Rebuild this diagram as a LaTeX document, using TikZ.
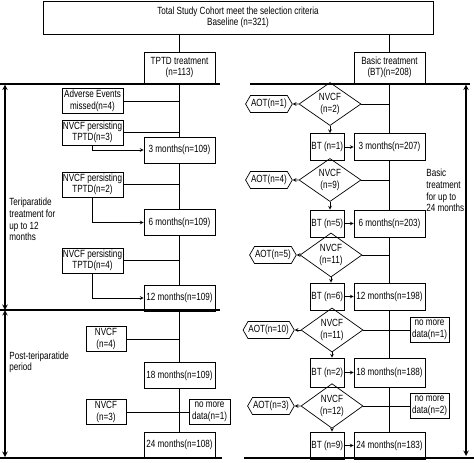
\documentclass[tikz,border=0pt]{standalone}
\usepackage{fontspec}
\setmainfont{Liberation Sans}[FakeStretch=0.78]
\usetikzlibrary{positioning,shapes.geometric,shapes.symbols}

\begin{document}
\begin{tikzpicture}[x=1pt, y=-1pt, node distance=9pt, >=stealth, line width=0.7pt,
    font=\fontsize{10.4}{11.6}\selectfont,
    box/.style={draw, rectangle, align=center, inner sep=1pt, minimum height=25pt},
    month/.style={box, minimum width=71pt, minimum height=26pt},
    side/.style={box, minimum width=61pt},
    small/.style={box, minimum width=40pt},
    btbox/.style={box, minimum width=34pt, inner sep=0.5pt, minimum height=26pt},
    decision/.style={draw, diamond, align=center, inner sep=0pt, minimum width=62pt, minimum height=36pt},
    aot/.style={draw, signal, signal to=west and east, signal pointer angle=120, inner sep=0.5pt, minimum height=17pt},
    span/.style={line width=1.4pt, <->},
    sep/.style={line width=1.2pt},
    note/.style={align=left, anchor=west, inner sep=1pt}]
  \useasboundingbox (0,0) rectangle (474,463);

  \node[box, minimum width=390pt, minimum height=33pt] (top) at (238,17.5) {Total Study Cohort meet the selection criteria\\Baseline (n=321)};
  \node[month, minimum height=31pt] (tptd) at (179.5,67.5) {TPTD treatment\\(n=113)};
  \node[month, minimum height=31pt] (bt) at (389.5,67.5) {Basic treatment\\(BT)(n=208)};

  % teriparatide arm
  \node[month] (m3L) at (179.5,150) {3 months(n=109)};
  \node[month] (m6L) at (179.5,222.5) {6 months(n=109)};
  \node[month] (m12L) at (179.5,298) {12 months(n=109)};
  \node[month] (m18L) at (179.5,375.5) {18 months(n=109)};
  \node[month] (m24L) at (179.5,445) {24 months(n=108)};
  \node[side] (ae) at (92.5,101) {Adverse Events\\missed(n=4)};
  \node[side] (p3) at (92.5,132.5) {NVCF persisting\\TPTD(n=3)};
  \node[side] (p2) at (92.5,184.5) {NVCF persisting\\TPTD(n=2)};
  \node[side] (p4) at (92.5,260.5) {NVCF persisting\\TPTD(n=4)};
  \node[small] (n4) at (106,339) {NVCF\\(n=4)};
  \node[small] (n3) at (106,412) {NVCF\\(n=3)};
  \node[box, minimum width=41pt] (nmL) at (209.5,412) {no more\\data(n=1)};

  % basic treatment arm
  \node[month, minimum height=27pt] (m3R) at (389.5,147) {3 months(n=207)};
  \node[month, minimum height=27pt] (m6R) at (389.5,223.5) {6 months(n=203)};
  \node[month, minimum height=27pt] (m12R) at (389.5,296.5) {12 months(n=198)};
  \node[month, minimum height=29pt] (m18R) at (389.5,372.5) {18 months(n=188)};
  \node[month, minimum height=27pt] (m24R) at (389.5,445.5) {24 months(n=183)};
  \node[btbox, minimum height=27pt] (bt1) [left=of m3R] {BT (n=1)};
  \node[btbox, minimum height=27pt] (bt5) [left=of m6R] {BT (n=5)};
  \node[btbox, minimum height=27pt] (bt6) [left=of m12R] {BT (n=6)};
  \node[btbox, minimum height=29pt] (bt2) [left=of m18R] {BT (n=2)};
  \node[btbox, minimum height=27pt] (bt9) [left=of m24R] {BT (n=9)};
  \node[decision] (d1) at (330,104) {NVCF\\(n=2)};
  \node[decision] (d2) at (330,180) {NVCF\\(n=9)};
  \node[decision] (d3) at (331,255) {NVCF\\(n=11)};
  \node[decision] (d4) at (332,330) {NVCF\\(n=11)};
  \node[decision] (d5) at (332,406) {NVCF\\(n=12)};
  \node[aot] (a1) [left=6pt of d1] {AOT(n=1)};
  \node[aot] (a4) [left=6pt of d2] {AOT(n=4)};
  \node[aot] (a5) [left=3pt of d3] {AOT(n=5)};
  \node[aot] (a10) [left=6pt of d4] {AOT(n=10)};
  \node[aot] (a3) [left=6pt of d5] {AOT(n=3)};
  \node[box, minimum width=39pt] (nm1) at (429.5,330) {no more\\data(n=1)};
  \node[box, minimum width=39pt] (nm2) at (429.5,406) {no more\\data(n=2)};

  % period labels
  \node[note] (tptdspan) at (8,219.5) {Teriparatide\\treatment for\\up to 12\\months};
  \node[note] (postspan) at (8,362.5) {Post-teriparatide\\period};
  \node[note] (btspan) at (425,190.5) {Basic\\treatment\\for up to\\24 months};

  \coordinate (sepA) at (0,84);    \coordinate (sepB) at (220,84);
  \coordinate (sepC) at (250,84);  \coordinate (sepD) at (470,84);
  \coordinate (sepE) at (0,310);   \coordinate (sepF) at (220,310);
  \coordinate (sepG) at (0,458);   \coordinate (sepH) at (222,458);
  \coordinate (sepI) at (244,458); \coordinate (sepJ) at (474,458);
  \coordinate (arrA) at (5,84.6);  \coordinate (arrB) at (5,310);
  \coordinate (arrC) at (5,457);   \coordinate (arrD) at (466,84.6);
  \coordinate (arrE) at (466,456);

  \draw[sep] (sepA) -- (sepB) (sepC) -- (sepD) (sepE) -- (sepF) (sepG) -- (sepH) (sepI) -- (sepJ);
  \draw[span] (arrA) -- (arrB);
  \draw[span] (arrB) -- (arrC);
  \draw[span] (arrD) -- (arrE);

  \draw (tptd.north |- top.south) -- (tptd.north);
  \draw (bt.north |- top.south) -- (bt.north);
  \draw (tptd) edge (m3L) (m3L) edge (m6L) (m6L) edge (m12L)
        (m12L) edge (m18L) (m18L) edge (m24L);
  \draw (bt) edge (m3R) (m3R) edge (m6R) (m6R) edge (m12R)
        (m12R) edge (m18R) (m18R) edge (m24R);

  \draw (ae) -- (ae -| m3L);
  \draw (p3) -- (p3 -| m3L);
  \draw (p2) -- (p2 -| m6L);
  \draw (p4) -- (p4 -| m12L);
  \draw[->] (p3.south) |- (m3L);
  \draw[->] (p2.south) |- (m6L);
  \draw[->] (p4.south) |- (m12L);
  \draw (n4) -- (n4 -| m18L);
  \draw (n3) -- (nmL);

  \draw (d1) -- (d1 -| m3R);
  \draw (d2) -- (d2 -| m6R);
  \draw (d3) -- (d3 -| m12R);
  \draw (d4) -- (nm1);
  \draw (d5) -- (nm2);
  \draw[->] (d1) -- (a1);
  \draw[->] (d2) -- (a4);
  \draw[->] (d3) -- (a5);
  \draw[->] (d4) -- (a10);
  \draw[->] (d5) -- (a3);
  \draw[->] (d1.south) -- (d1.south |- bt1.north);
  \draw[->] (d2.south) -- (d2.south |- bt5.north);
  \draw[->] (d3.south) -- (d3.south |- bt6.north);
  \draw[->] (d4.south) -- (d4.south |- bt2.north);
  \draw[->] (d5.south) -- (d5.south |- bt9.north);
  \draw[->] (bt1) -- (m3R);
  \draw[->] (bt5) -- (m6R);
  \draw[->] (bt6) -- (m12R);
  \draw[->] (bt2) -- (m18R);
  \draw[->] (bt9) -- (m24R);
\end{tikzpicture}
\end{document}
